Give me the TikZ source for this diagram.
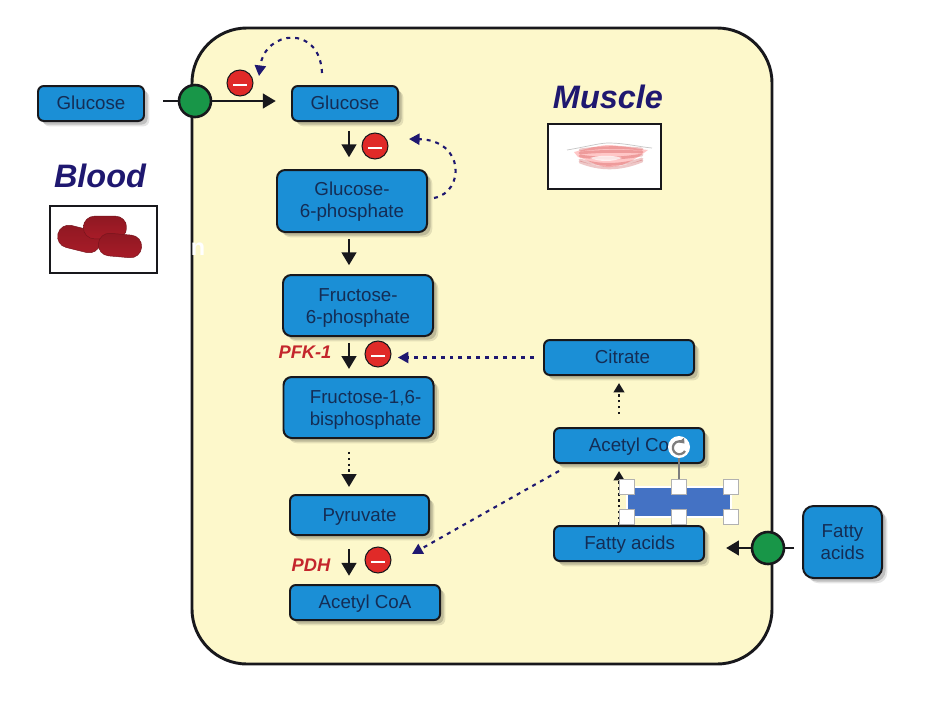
\documentclass[tikz,border=0pt]{standalone}
\usepackage{fontspec}
\setmainfont{Liberation Sans}
\usepackage{xcolor}
\usetikzlibrary{arrows.meta, calc, shadows}
\definecolor{cellfill}{RGB}{253, 248, 203}
\definecolor{boxfill}{RGB}{27, 143, 214}
\definecolor{boxtext}{RGB}{20, 45, 85}
\definecolor{navyink}{RGB}{31, 24, 112}
\definecolor{redink}{RGB}{196, 38, 44}
\definecolor{inhibred}{RGB}{224, 42, 40}
\definecolor{porefill}{RGB}{24, 150, 72}
\definecolor{darkline}{RGB}{24, 24, 28}
\definecolor{selblue}{RGB}{68, 114, 196}
\definecolor{selgrey}{RGB}{125, 125, 125}
\definecolor{cellred}{RGB}{168, 28, 40}
\tikzstyle{metabox} = [rectangle, rounded corners=5pt, inner sep=0pt, align=center, draw=darkline, line width=1.7pt, fill=boxfill, text=boxtext, font=\fontsize{16}{18.8}\selectfont, general shadow={shadow xshift=3pt, shadow yshift=-3pt, fill=black, opacity=.16}, general shadow={shadow xshift=4.5pt, shadow yshift=-4.5pt, fill=black, opacity=.1}]
\tikzstyle{oneline} = [metabox, text height=14pt, text depth=3pt]
\tikzstyle{inhib} = [circle, minimum size=0.78cm, inner sep=0pt, draw=darkline, line width=0.9pt, fill=inhibred, path picture={\draw[white, line width=2.1pt] ($(path picture bounding box.center)+(-7,2)$) -- ($(path picture bounding box.center)+(7,2)$);}]
\tikzstyle{pore} = [circle, minimum size=0.96cm, inner sep=0pt, draw=darkline, line width=2.2pt, fill=porefill]
\tikzstyle{arrow} = [line width=2pt, darkline, -{Triangle[length=11pt, width=12.5pt]}]
\tikzstyle{dotarrow} = [arrow, dash pattern=on 2.2pt off 2.8pt]
\tikzstyle{updots} = [line width=2pt, darkline, dash pattern=on 2.2pt off 2.8pt, -{Triangle[length=8pt, width=9pt]}]
\tikzstyle{feedback} = [line width=1.8pt, navyink, dash pattern=on 3.4pt off 4.2pt, -{Triangle[length=9pt, width=9.5pt]}]
\tikzstyle{tissue} = [font=\fontsize{27.7}{30}\bfseries\itshape\selectfont, text=navyink, inner sep=0pt]
\tikzstyle{enzyme} = [font=\fontsize{15.6}{18}\bfseries\itshape\selectfont, text=redink, inner sep=0pt]
\tikzstyle{photo} = [rectangle, inner sep=0pt, draw=darkline, line width=1.8pt, fill=white]
\tikzstyle{handle} = [rectangle, minimum size=0.45cm, inner sep=0pt, draw=selgrey!60, line width=0.4pt, fill=white]
\tikzstyle{redcell} = [rectangle, minimum width=1.3cm, minimum height=0.68cm, inner sep=0pt, rounded corners=9.5pt, draw=cellred!70!black, line width=0.4pt, top color=cellred!85!black, bottom color=cellred]
\begin{document}
\begin{tikzpicture}[x=0.03cm, y=-0.03cm]
    \useasboundingbox (0,0) rectangle (940,716);
    \fill[white] (0,0) rectangle (940,716);

    % Muscle cell
    \node[rectangle, rounded corners=1.65cm, minimum width=17.4cm, minimum height=19.08cm, draw=darkline, line width=2.5pt, fill=cellfill] (cell) at (482,346) {};
    \node[font=\fontsize{20}{20}\bfseries\selectfont, text=white, inner sep=0pt] (stray) at (198,249) {n};

    % Titles and pictures
    \node[tissue] (blood) at (100,176) {Blood};
    \node[tissue] (muscle) at (608,97) {Muscle};
    \node[photo, minimum width=3.21cm, minimum height=2.01cm] (bloodpic) at (103.5,239.5) {};
    \node[photo, minimum width=3.39cm, minimum height=1.95cm] (musclepic) at (604.5,156.5) {};

    % Red cells
    \node[redcell, rotate=-14] (rbca) at (79,239) {};
    \node[redcell] (rbcb) at (105,227.5) {};
    \node[redcell, rotate=-5] (rbcc) at (120,245.5) {};

    % Muscle fibre
    \draw[gray!45, line width=0.6pt] (567,150) .. controls (585,147) and (600,143) .. (608,143) .. controls (625,143) and (640,147) .. (652,148);
    \fill[red!22] (574,152) .. controls (590,148) and (600,145) .. (610,145) .. controls (625,146) and (638,149) .. (648,150) .. controls (636,159) and (622,168) .. (606,167) .. controls (596,166) and (586,159) .. (578,157) -- cycle;
    \foreach \sy/\sb in {150/147, 153/151, 156/159, 160/166, 162/170}
        \draw[red!70!black, opacity=.22, line width=2.4pt, line cap=round] (580,\sy) .. controls (600,\sb) and (620,\sb) .. (642,\sy-1);
    \fill[white, opacity=.75] (590,158) .. controls (600,155) and (612,155) .. (622,158) .. controls (612,162) and (600,162) .. (590,158) -- cycle;

    % Metabolites
    \node[oneline, minimum width=3.18cm, minimum height=1.05cm] (bglc) at (91,103.5) {Glucose};
    \node[oneline, minimum width=3.18cm, minimum height=1.05cm] (glc) at (345,103.5) {Glucose};
    \node[metabox, minimum width=4.5cm, minimum height=1.86cm, rounded corners=7pt] (gsix) at (352,201) {\rule{0pt}{13pt}Glucose-\\6-phosphate};
    \node[metabox, minimum width=4.5cm, minimum height=1.83cm, rounded corners=7pt] (fsix) at (358,305.5) {\rule{0pt}{14.5pt}Fructose-\\6-phosphate};
    \node[metabox, minimum width=4.5cm, minimum height=1.83cm, rounded corners=7pt] (fbis) at (358.5,407.5) {\rule{0pt}{16pt}\hspace*{12pt}Fructose-1,6-\\\hspace*{12pt}bisphosphate};
    \node[oneline, minimum width=4.17cm, minimum height=1.2cm] (pyr) at (359.5,515) {Pyruvate};
    \node[oneline, minimum width=4.5cm, minimum height=1.05cm] (acoa) at (365,602.5) {Acetyl CoA};
    \node[oneline, minimum width=4.5cm, minimum height=1.05cm] (cit) at (619,357.5) {\hspace*{6pt}Citrate};
    \node[oneline, minimum width=4.5cm, minimum height=1.05cm] (aco) at (629,445.5) {Acetyl Co};
    \node[oneline, minimum width=4.5cm, minimum height=1.05cm] (fa) at (629,543.5) {\hspace*{1pt}Fatty acids};
    \node[metabox, minimum width=2.37cm, minimum height=2.16cm, rounded corners=9pt] (bfa) at (842.5,542) {Fatty\\acids};

    % Enzymes
    \node[enzyme] (pfk) at (305,352) {PFK-1};
    \node[enzyme] (pdh) at (311,565) {PDH};

    % Inhibition marks
    \node[inhib] (inha) at (240,83) {};
    \node[inhib] (inhb) at (375,146) {};
    \node[inhib] (inhc) at (378,354) {};
    \node[inhib] (inhd) at (378,560) {};

    % Main pathway
    \coordinate (axis) at (349,0);
    \coordinate (upaxis) at (619,0);
    \draw[arrow, shorten <=7.5pt, shorten >=10pt] (glc.south -| axis) -- (gsix.north -| axis);
    \draw[arrow, shorten <=5pt, shorten >=7.5pt] (gsix.south -| axis) -- (fsix.north -| axis);
    \draw[arrow, shorten <=5pt, shorten >=6pt] (fsix.south -| axis) -- (fbis.north -| axis);
    \draw[dotarrow, shorten <=11pt, shorten >=6pt] (fbis.south -| axis) -- (pyr.north -| axis);
    \draw[arrow, shorten <=11pt, shorten >=7pt] (pyr.south -| axis) -- (acoa.north -| axis);

    % Fatty acid side
    \draw[updots, shorten <=11pt, shorten >=6pt] (aco.north -| upaxis) -- (cit.south -| upaxis);
    \draw[updots, shorten >=6pt] (fa.north -| upaxis) -- (aco.south -| upaxis);

    % Feedback
    \draw[feedback] ($(glc.north)+(-23,-12)$) .. controls +(-2,-49) and ($(inha)+(25,-53)$) .. ($(inha)+(19,-7)$);
    \draw[feedback] ($(gsix.east)+(6,-3)$) .. controls +(31,-6) and ($(inhb)+(90,-6)$) .. ($(inhb)+(34,-7)$);
    \draw[feedback, shorten <=8pt, shorten >=17pt] (cit.west) -- (cit.west -| inhc.center);
    \draw[feedback] ($(aco.south west)+(6,7)$) -- ($(inhd)+(34,-6)$);

    % Transport across the membrane
    \coordinate (bgstart) at (163,101);
    \coordinate (fastart) at (794,548);
    \draw[arrow, shorten >=13pt] (bgstart) -- (bgstart -| glc.west);
    \draw[arrow, shorten >=18pt] (fastart) -- (fastart -| fa.east);
    \node[pore] (porea) at (195,101) {};
    \node[pore] (poreb) at (768,548) {};

    % Selected shape
    \node[rectangle, minimum width=3.12cm, minimum height=0.9cm, inner sep=0pt, outer sep=0pt, draw=white, line width=2.2pt, fill=selblue] (sel) at (679,502) {};
    \draw[selgrey, line width=1pt] (sel.north) -- (679,447);
    \foreach \hname/\hanchor in {hnw/north west, hn/north, hne/north east, hsw/south west, hs/south, hse/south east}
        \node[handle] (\hname) at (sel.\hanchor) {};
    \node[circle, minimum size=0.66cm, inner sep=0pt, fill=white] (rot) at (679,447) {};
    \draw[selgrey, line width=1.9pt, -{Triangle[length=4pt, width=6pt]}] ($(rot)+(6,4)$) arc[start angle=30, end angle=320, radius=6.5];
\end{tikzpicture}
\end{document}
